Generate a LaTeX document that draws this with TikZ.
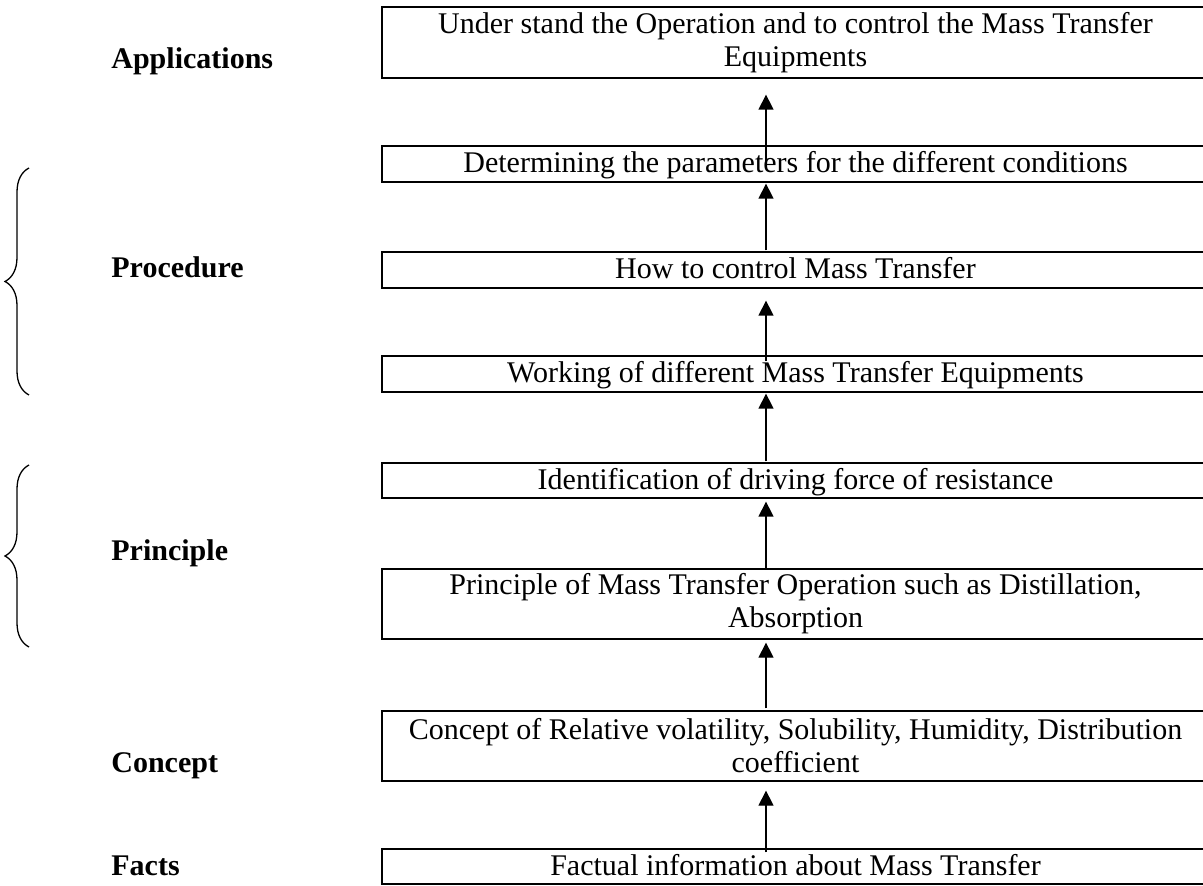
\documentclass[tikz,border=0pt]{standalone}
\usepackage{fontspec}
\setmainfont{Liberation Serif}
\usetikzlibrary{arrows.meta,decorations.pathreplacing}
\begin{document}
\begin{tikzpicture}[x=0.5pt,y=-0.5pt,
  box/.style={draw,line width=0.65pt,inner sep=0pt,minimum width=413.5pt,align=center,
    font=\fontsize{15}{16.5}\selectfont},
  onebox/.style={box,text height=11pt,text depth=2pt},
  lbl/.style={anchor=base west,inner sep=0pt,font=\fontsize{15}{16.5}\selectfont\bfseries},
  arr/.style={line width=0.65pt,-{Triangle[width=7.5pt,length=7.5pt]}},
  brc/.style={line width=0.65pt,decorate,decoration={brace,amplitude=12pt}}]
\useasboundingbox (0,0) rectangle (1203,886);
% boxes
\node[box,minimum height=35.5pt] (A) at (795.5,42.5) {Under stand the Operation and to control the Mass Transfer\\Equipments};
\node[onebox,minimum height=18pt] (D) at (795.5,164) {Determining the parameters for the different conditions};
\node[onebox,minimum height=18pt] (H) at (795.5,270) {How to control Mass Transfer};
\node[onebox,minimum height=18pt] (W) at (795.5,374) {Working of different Mass Transfer Equipments};
\node[onebox,minimum height=17.5pt] (I) at (795.5,480.5) {Identification of driving force of resistance};
\node[box,minimum height=35pt] (P) at (795.5,604) {Principle of Mass Transfer Operation such as Distillation,\\Absorption};
\node[box,minimum height=35pt] (C) at (795.5,746) {Concept of Relative volatility, Solubility, Humidity, Distribution\\coefficient};
\node[onebox,minimum height=17.5pt] (F) at (795.5,866.5) {Factual information about Mass Transfer};
% arrows
\coordinate (ax) at (766,0);
\draw[arr] ([yshift=-2pt]F.north -| ax) -- ([yshift=-4.5pt]C.south -| ax);
\draw[arr] ([yshift=1pt]C.north -| ax) -- ([yshift=-1.5pt]P.south -| ax);
\draw[arr] (P.north -| ax) -- ([yshift=-1.5pt]I.south -| ax);
\draw[arr] ([yshift=0.5pt]I.north -| ax) -- ([yshift=-0.5pt]W.south -| ax);
\draw[arr] ([yshift=-3pt]W.north -| ax) -- ([yshift=-6pt]H.south -| ax);
\draw[arr] ([yshift=0.5pt]H.north -| ax) -- ([yshift=-0.5pt]D.south -| ax);
\draw[arr] ([yshift=-9.5pt]D.north -| ax) -- ([yshift=-8pt]A.south -| ax);
% labels
\node[lbl] (lA) at (111,69) {Applications};
\node[lbl] (lPr) at (111,278) {Procedure};
\node[lbl] (lPi) at (111,560) {Principle};
\node[lbl] (lC) at (111,772) {Concept};
\node[lbl] (lF) at (111,875) {Facts};
% braces
\coordinate (b1s) at (29,395);
\coordinate (b1e) at (29,168);
\coordinate (b2s) at (29,647);
\coordinate (b2e) at (29,465);
\draw[brc] (b1s) -- (b1e);
\draw[brc] (b2s) -- (b2e);
\end{tikzpicture}
\end{document}
